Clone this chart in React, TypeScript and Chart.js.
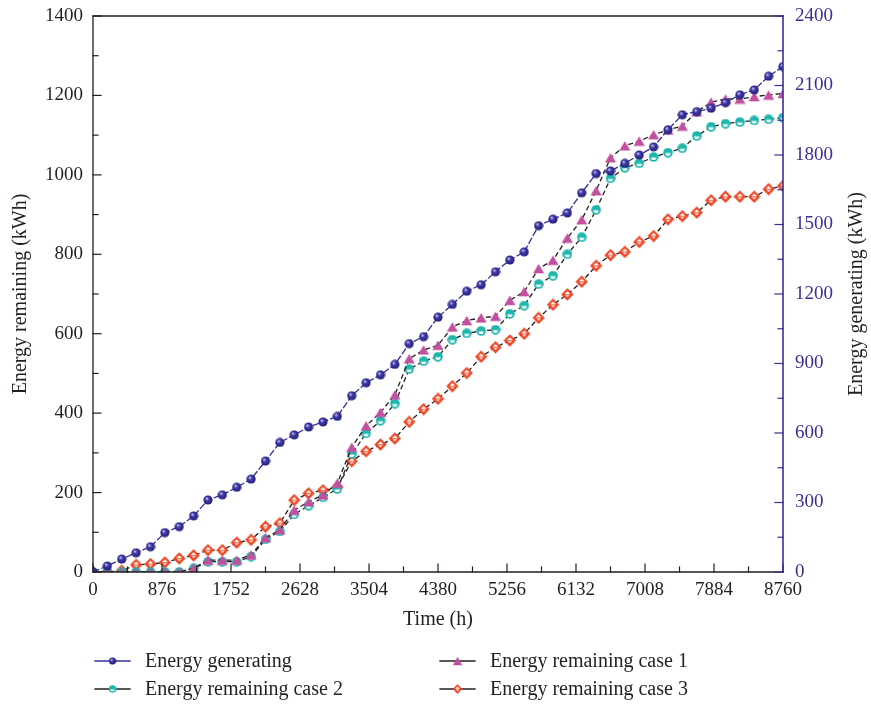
import React, { useEffect, useRef } from "react";
import { Chart, registerables } from "chart.js";

Chart.register(...registerables);

const timeHours = [
  0, 182.5, 365, 547.5, 730, 912.5, 1095, 1277.5, 1460, 1642.5, 1825, 2007.5, 2190, 2372.5, 2555, 2737.5,
  2920, 3102.5, 3285, 3467.5, 3650, 3832.5, 4015, 4197.5, 4380, 4562.5, 4745, 4927.5, 5110, 5292.5, 5475,
  5657.5, 5840, 6022.5, 6205, 6387.5, 6570, 6752.5, 6935, 7117.5, 7300, 7482.5, 7665, 7847.5, 8030, 8212.5,
  8395, 8577.5, 8760,
];

// right axis (kWh)
const energyGenerating = [
  0, 26, 56, 83, 109, 170, 196, 242, 311, 333, 366, 401, 479, 559, 592, 626,
  648, 672, 761, 817, 851, 896, 986, 1016, 1100, 1155, 1212, 1240, 1296, 1347, 1382,
  1495, 1523, 1550, 1637, 1720, 1731, 1764, 1800, 1835, 1909, 1974, 1987, 2002, 2026, 2060,
  2081, 2140, 2182,
];

// left axis (kWh)
const remainingCase1 = [
  0, 0, 0, 0, 0, 0, 0, 10, 30, 30, 30, 43, 86, 106, 156, 177,
  194, 224, 314, 368, 402, 446, 537, 559, 571, 617, 633, 640, 644, 684, 706,
  764, 785, 841, 887, 960, 1043, 1073, 1085, 1101, 1113, 1123, 1159, 1183, 1191, 1191,
  1197, 1201, 1205,
];

const remainingCase2 = [
  0, 0, 0, 0, 0, 0, 0, 9, 26, 26, 26, 39, 82, 102, 145, 167,
  188, 209, 297, 349, 381, 424, 511, 531, 542, 585, 601, 607, 610, 650, 671,
  725, 746, 800, 843, 912, 991, 1018, 1029, 1045, 1056, 1067, 1098, 1121, 1129, 1133,
  1137, 1140, 1144,
];

const remainingCase3 = [
  0, 0, 3, 18, 20, 24, 34, 42, 55, 55, 74, 81, 114, 123, 181, 198,
  206, 214, 279, 304, 321, 336, 378, 410, 436, 468, 501, 542, 566, 583, 600,
  640, 673, 699, 731, 771, 798, 806, 831, 846, 888, 896, 905, 936, 945, 945,
  945, 964, 972,
];

const xTickStep = 876;
const leftTickStep = 200;
const rightTickStep = 300;

const legendLabels = [
  "Energy generating",
  "Energy remaining case 1",
  "Energy remaining case 2",
  "Energy remaining case 3",
];

const FONT = "'Liberation Serif', 'DejaVu Serif', serif";
const BLUE = "#35309a";
const RIGHT_AXIS = "#3a2f96";
const MAGENTA = "#c1519f";
const TEAL = "#1fb6ae";
const RED = "#ef4523";
const TEXT = "#231f20";

function makeCanvas(w: number, h: number) {
  const c = document.createElement("canvas");
  c.width = w;
  c.height = h;
  return c;
}

function ballImg() {
  const c = makeCanvas(10, 10);
  const g = c.getContext("2d")!;
  const grad = g.createRadialGradient(3.6, 3.4, 0.4, 5, 5, 4.8);
  grad.addColorStop(0, "#c4c2f0");
  grad.addColorStop(0.35, "#403aa8");
  grad.addColorStop(1, "#211c76");
  g.fillStyle = grad;
  g.beginPath();
  g.arc(5, 5, 4.6, 0, Math.PI * 2);
  g.fill();
  return c;
}

function triImg() {
  const c = makeCanvas(12, 11);
  const g = c.getContext("2d")!;
  g.fillStyle = MAGENTA;
  g.beginPath();
  g.moveTo(6, 0.8);
  g.lineTo(11.6, 10.2);
  g.lineTo(0.4, 10.2);
  g.closePath();
  g.fill();
  return c;
}

function tealImg() {
  const c = makeCanvas(10, 10);
  const g = c.getContext("2d")!;
  g.fillStyle = TEAL;
  g.beginPath();
  g.arc(5, 5, 4.8, 0, Math.PI * 2);
  g.fill();
  g.fillStyle = "#ffffff";
  g.beginPath();
  g.arc(5, 5.4, 2.6, 0, Math.PI);
  g.closePath();
  g.fill();
  return c;
}

function diamondImg() {
  const c = makeCanvas(13, 13);
  const g = c.getContext("2d")!;
  g.fillStyle = RED;
  g.beginPath();
  g.moveTo(6.5, 0.3);
  g.lineTo(12.7, 6.5);
  g.lineTo(6.5, 12.7);
  g.lineTo(0.3, 6.5);
  g.closePath();
  g.fill();
  g.fillStyle = "#ffffff";
  g.beginPath();
  g.moveTo(6.5, 3.2);
  g.lineTo(9.5, 6.2);
  g.lineTo(3.5, 6.2);
  g.closePath();
  g.fill();
  g.beginPath();
  g.moveTo(4.3, 7.3);
  g.lineTo(8.7, 7.3);
  g.lineTo(6.5, 9.3);
  g.closePath();
  g.fill();
  return c;
}

export default function App() {
  const ref = useRef<HTMLCanvasElement | null>(null);

  useEffect(() => {
    const canvas = ref.current;
    if (!canvas) return;
    const imgs = [ballImg(), triImg(), tealImg(), diamondImg()];

    const toPts = (vals: number[]) => vals.map((v, i) => ({ x: timeHours[i], y: v }));

    const decor = {
      id: "decor",
      afterDraw(chart: any) {
        const ctx = chart.ctx;
        const a = chart.chartArea;
        const xs = chart.scales.x;
        const yl = chart.scales.y;
        const yr = chart.scales.y1;
        ctx.save();
        // frame
        ctx.lineCap = "square";
        ctx.strokeStyle = TEXT;
        ctx.lineWidth = 1.3;
        ctx.beginPath();
        ctx.moveTo(a.right, a.top);
        ctx.lineTo(a.left, a.top);
        ctx.lineTo(a.left, a.bottom);
        ctx.lineTo(a.right, a.bottom);
        ctx.stroke();
        // x ticks (inward)
        ctx.lineWidth = 1.2;
        for (let v = 0; v <= 8760; v += xTickStep / 2) {
          const px = xs.getPixelForValue(v);
          const len = v % xTickStep === 0 ? 8 : 5;
          ctx.beginPath();
          ctx.moveTo(px, a.bottom);
          ctx.lineTo(px, a.bottom - len);
          ctx.stroke();
        }
        // left ticks
        for (let v = 0; v <= 1400; v += leftTickStep / 2) {
          const py = yl.getPixelForValue(v);
          const len = v % leftTickStep === 0 ? 8 : 5;
          ctx.beginPath();
          ctx.moveTo(a.left, py);
          ctx.lineTo(a.left + len, py);
          ctx.stroke();
        }
        // right axis
        ctx.strokeStyle = RIGHT_AXIS;
        ctx.lineWidth = 1.6;
        ctx.beginPath();
        ctx.moveTo(a.right, a.top);
        ctx.lineTo(a.right, a.bottom);
        ctx.stroke();
        ctx.lineWidth = 1.2;
        for (let v = 0; v <= 2400; v += rightTickStep / 2) {
          const py = yr.getPixelForValue(v);
          const len = v % rightTickStep === 0 ? 8 : 5;
          ctx.beginPath();
          ctx.moveTo(a.right, py);
          ctx.lineTo(a.right - len, py);
          ctx.stroke();
        }
        // titles
        ctx.font = `20px ${FONT}`;
        ctx.textAlign = "center";
        ctx.textBaseline = "middle";
        ctx.fillStyle = TEXT;
        ctx.fillText("Time (h)", (a.left + a.right) / 2, 620);
        const cy = (a.top + a.bottom) / 2;
        ctx.save();
        ctx.translate(21, cy);
        ctx.rotate(-Math.PI / 2);
        ctx.fillText("Energy remaining (kWh)", 0, 0);
        ctx.restore();
        ctx.save();
        ctx.translate(857, cy);
        ctx.rotate(-Math.PI / 2);
        ctx.fillText("Energy generating (kWh)", 0, 0);
        ctx.restore();
        // legend
        const items = [
          { x: 95, y: 661, color: BLUE, img: imgs[0], s: 8, label: legendLabels[0] },
          { x: 440, y: 661, color: TEXT, img: imgs[1], s: 10, label: legendLabels[1] },
          { x: 95, y: 689, color: TEXT, img: imgs[2], s: 8, label: legendLabels[2] },
          { x: 440, y: 689, color: TEXT, img: imgs[3], s: 10, label: legendLabels[3] },
        ];
        ctx.textAlign = "left";
        for (const it of items) {
          ctx.strokeStyle = it.color;
          ctx.lineWidth = 1.3;
          ctx.beginPath();
          ctx.moveTo(it.x, it.y);
          ctx.lineTo(it.x + 35, it.y);
          ctx.stroke();
          ctx.drawImage(it.img, it.x + 17.5 - it.s / 2, it.y - it.s / 2, it.s, it.s);
          ctx.fillStyle = TEXT;
          ctx.fillText(it.label, it.x + 50, it.y + 1);
        }
        ctx.restore();
      },
    };

    const plain = (v: any) => String(v);
    const fitY = (w: number) => (s: any) => {
      s.width = w;
      s.paddingTop = 0;
      s.paddingBottom = 0;
    };

    const chart = new Chart(canvas, {
      type: "line",
      data: {
        datasets: [
          {
            label: legendLabels[0],
            data: toPts(energyGenerating),
            yAxisID: "y1",
            borderColor: BLUE,
            borderWidth: 1.3,
            borderDash: [7, 2],
            pointStyle: imgs[0] as any,
            pointRadius: 5,
            tension: 0,
          },
          {
            label: legendLabels[1],
            data: toPts(remainingCase1),
            yAxisID: "y",
            borderColor: TEXT,
            borderWidth: 1.3,
            borderDash: [5, 3],
            pointStyle: imgs[1] as any,
            pointRadius: 6,
            tension: 0,
          },
          {
            label: legendLabels[2],
            data: toPts(remainingCase2),
            yAxisID: "y",
            borderColor: TEXT,
            borderWidth: 1.3,
            borderDash: [5, 3],
            pointStyle: imgs[2] as any,
            pointRadius: 5,
            tension: 0,
          },
          {
            label: legendLabels[3],
            data: toPts(remainingCase3),
            yAxisID: "y",
            borderColor: TEXT,
            borderWidth: 1.3,
            borderDash: [5, 3],
            pointStyle: imgs[3] as any,
            pointRadius: 6,
            tension: 0,
          },
        ],
      },
      options: {
        responsive: false,
        animation: false,
        devicePixelRatio: 1,
        layout: { padding: { left: 0, right: 0, top: 16, bottom: 73 } },
        plugins: { legend: { display: false }, tooltip: { enabled: false } },
        elements: { point: { hoverRadius: 5 } },
        scales: {
          x: {
            type: "linear",
            min: 0,
            max: 8760,
            grid: { display: false, drawTicks: false },
            border: { display: false },
            afterFit: (s: any) => {
              s.height = 60;
              s.paddingLeft = 0;
              s.paddingRight = 0;
            },
            ticks: {
              stepSize: xTickStep,
              autoSkip: false,
              maxRotation: 0,
              padding: 7,
              color: TEXT,
              font: { family: FONT, size: 19 },
              callback: plain,
            },
          },
          y: {
            type: "linear",
            position: "left",
            min: 0,
            max: 1400,
            grid: { display: false, drawTicks: false },
            border: { display: false },
            afterFit: fitY(93),
            ticks: {
              stepSize: leftTickStep,
              padding: 10,
              color: TEXT,
              font: { family: FONT, size: 19 },
              callback: plain,
            },
          },
          y1: {
            type: "linear",
            position: "right",
            min: 0,
            max: 2400,
            grid: { display: false, drawTicks: false },
            border: { display: false },
            afterFit: fitY(88),
            ticks: {
              stepSize: rightTickStep,
              padding: 12,
              color: RIGHT_AXIS,
              font: { family: FONT, size: 19 },
              callback: plain,
            },
          },
        },
      },
      plugins: [decor],
    });

    return () => chart.destroy();
  }, []);

  return (
    <div style={{ position: "absolute", left: 0, top: 0, width: 871, height: 705, background: "#fff" }}>
      <canvas ref={ref} width={871} height={705} style={{ display: "block" }} />
    </div>
  );
}
